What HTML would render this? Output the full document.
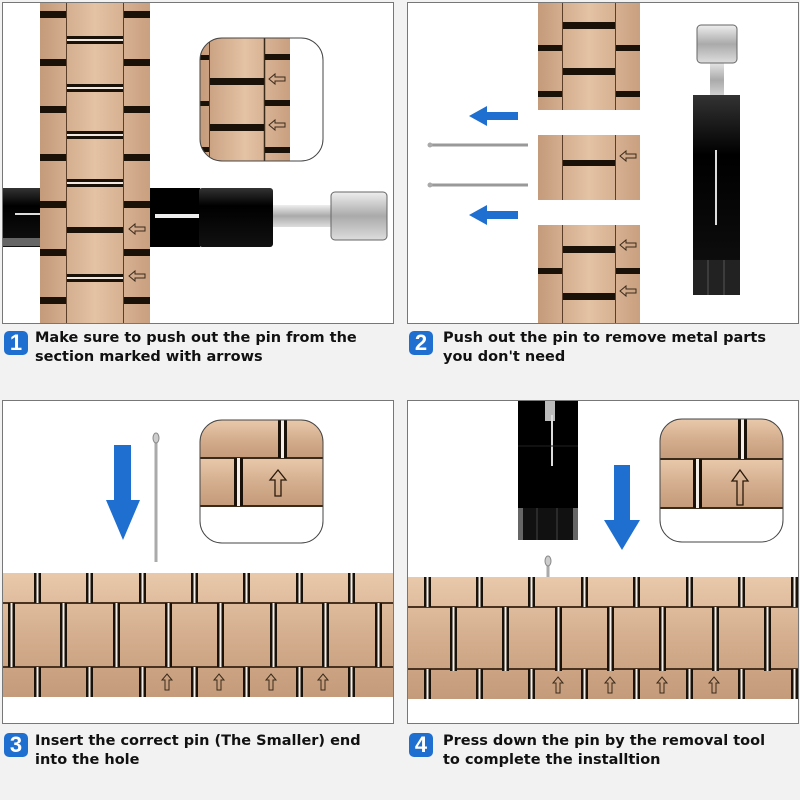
<!DOCTYPE html>
<html><head><meta charset="utf-8"><style>
body{margin:0;background:#f2f2f2;width:800px;height:800px;overflow:hidden;font-family:"Liberation Sans",sans-serif}
svg{position:absolute;left:0;top:0}
.cap{position:absolute;font-family:"DejaVu Sans",sans-serif;font-weight:bold;font-size:14.5px;line-height:19px;color:#111}
.n{position:absolute;width:24px;height:24px;background:#1e6fd0;border-radius:5px;color:#fff;font-weight:bold;font-size:22px;line-height:24px;text-align:center}
</style></head><body>
<svg width="800" height="800" viewBox="0 0 800 800">
<defs>
<linearGradient id="m" x1="0" y1="0" x2="0" y2="1"><stop offset="0" stop-color="#e9c9ab"/><stop offset=".5" stop-color="#d4ae8e"/><stop offset="1" stop-color="#c49b7b"/></linearGradient>
<linearGradient id="mh" x1="0" y1="0" x2="1" y2="0"><stop offset="0" stop-color="#c49b7b"/><stop offset=".5" stop-color="#e4c2a4"/><stop offset="1" stop-color="#c9a080"/></linearGradient>
<linearGradient id="bk" x1="0" y1="0" x2="0" y2="1"><stop offset="0" stop-color="#333"/><stop offset=".3" stop-color="#000"/><stop offset="1" stop-color="#111"/></linearGradient>
<linearGradient id="sv" x1="0" y1="0" x2="0" y2="1"><stop offset="0" stop-color="#eee"/><stop offset=".5" stop-color="#aaa"/><stop offset="1" stop-color="#ddd"/></linearGradient>
<g id="vg"><rect width="7" height="30" fill="#1a1208"/><rect x="2.5" width="2" height="30" fill="#f4eee8"/></g>
<g id="vgm"><rect width="7" height="64" fill="#1a1208"/><rect x="2.5" width="2" height="64" fill="#f4eee8"/></g>
<g id="ua"><path d="M0,-8 L5,-2 L2,-2 L2,8 L-2,8 L-2,-2 L-5,-2 Z" fill="none" stroke="#3a2a1a" stroke-width="1"/></g>
<g id="la"><path d="M-8,0 L-2,-5 L-2,-2 L8,-2 L8,2 L-2,2 L-2,5 Z" fill="none" stroke="#3a2a1a" stroke-width="1"/></g>
</defs>
<rect x="2.5" y="2.5" width="391" height="321" fill="#fff" stroke="#777"/>
<rect x="407.5" y="2.5" width="391" height="321" fill="#fff" stroke="#777"/>
<rect x="2.5" y="400.5" width="391" height="323" fill="#fff" stroke="#777"/>
<rect x="407.5" y="400.5" width="391" height="323" fill="#fff" stroke="#777"/>

<rect x="40" y="3" width="110" height="320" fill="url(#mh)"/>
<line x1="66.5" y1="3" x2="66.5" y2="323" stroke="#5a3e28"/><line x1="123.5" y1="3" x2="123.5" y2="323" stroke="#5a3e28"/>
<g fill="#1a1208">
<rect x="40" y="11" width="26" height="7"/><rect x="124" y="11" width="26" height="7"/>
<rect x="40" y="59" width="26" height="7"/><rect x="124" y="59" width="26" height="7"/>
<rect x="40" y="106" width="26" height="7"/><rect x="124" y="106" width="26" height="7"/>
<rect x="40" y="154" width="26" height="7"/><rect x="124" y="154" width="26" height="7"/>
<rect x="40" y="201" width="26" height="7"/><rect x="124" y="201" width="26" height="7"/>
<rect x="40" y="249" width="26" height="7"/><rect x="124" y="249" width="26" height="7"/>
<rect x="40" y="297" width="26" height="7"/><rect x="124" y="297" width="26" height="7"/>
<rect x="67" y="36" width="56" height="8"/><rect x="67" y="84" width="56" height="8"/><rect x="67" y="131" width="56" height="8"/><rect x="67" y="179" width="56" height="8"/><rect x="67" y="227" width="56" height="6"/><rect x="67" y="274" width="56" height="8"/>
</g>
<g fill="#f0e8e0"><rect x="67" y="39" width="56" height="2"/><rect x="67" y="87" width="56" height="2"/><rect x="67" y="134" width="56" height="2"/><rect x="67" y="182" width="56" height="2"/><rect x="67" y="277" width="56" height="2"/></g>
<use href="#la" x="137" y="229"/><use href="#la" x="137" y="276"/>
<rect x="3" y="188" width="37" height="59" fill="url(#bk)"/><rect x="3" y="238" width="37" height="8" fill="#666"/>
<line x1="15" y1="214" x2="40" y2="214" stroke="#ddd" stroke-width="2"/>
<rect x="150" y="188" width="50" height="59" fill="#000"/>
<rect x="155" y="214" width="45" height="4" fill="#eee"/>
<rect x="199" y="188" width="74" height="59" rx="3" fill="url(#bk)"/>
<rect x="273" y="205" width="60" height="22" fill="url(#sv)"/>
<rect x="331" y="192" width="56" height="48" rx="4" fill="url(#sv)" stroke="#666"/>
<clipPath id="c1"><rect x="200" y="38" width="123" height="123" rx="22"/></clipPath>
<g clip-path="url(#c1)">
<rect x="200" y="38" width="123" height="123" fill="#fff"/>
<rect x="200" y="38" width="90" height="123" fill="url(#mh)"/>
<line x1="209.5" y1="38" x2="209.5" y2="161" stroke="#5a3e28"/><line x1="264.5" y1="38" x2="264.5" y2="161" stroke="#3a2a1a" stroke-width="1.5"/>
<g fill="#1a1208"><rect x="210" y="78" width="54" height="7"/><rect x="210" y="124" width="54" height="7"/><rect x="265" y="54" width="25" height="6"/><rect x="265" y="100" width="25" height="6"/><rect x="265" y="147" width="25" height="6"/><rect x="200" y="55" width="9" height="5"/><rect x="200" y="101" width="9" height="5"/><rect x="200" y="147" width="9" height="5"/></g>
<use href="#la" x="277" y="79"/><use href="#la" x="277" y="125"/>
</g>
<rect x="200" y="38" width="123" height="123" rx="22" fill="none" stroke="#444"/>

<g>
<rect x="538" y="3" width="102" height="107" fill="url(#mh)"/>
<line x1="562.5" y1="3" x2="562.5" y2="110" stroke="#5a3e28"/><line x1="615.5" y1="3" x2="615.5" y2="110" stroke="#5a3e28"/>
<g fill="#1a1208"><rect x="563" y="22" width="52" height="7"/><rect x="563" y="68" width="52" height="7"/><rect x="538" y="45" width="24" height="6"/><rect x="616" y="45" width="24" height="6"/><rect x="538" y="91" width="24" height="6"/><rect x="616" y="91" width="24" height="6"/></g>
<rect x="538" y="135" width="102" height="65" fill="url(#mh)"/>
<line x1="562.5" y1="135" x2="562.5" y2="200" stroke="#5a3e28"/><line x1="615.5" y1="135" x2="615.5" y2="200" stroke="#5a3e28"/>
<rect x="563" y="160" width="52" height="6" fill="#1a1208"/>
<use href="#la" x="628" y="156"/>
<rect x="538" y="225" width="102" height="98" fill="url(#mh)"/>
<line x1="562.5" y1="225" x2="562.5" y2="323" stroke="#5a3e28"/><line x1="615.5" y1="225" x2="615.5" y2="323" stroke="#5a3e28"/>
<g fill="#1a1208"><rect x="563" y="246" width="52" height="7"/><rect x="563" y="293" width="52" height="7"/><rect x="538" y="268" width="24" height="6"/><rect x="616" y="268" width="24" height="6"/></g>
<use href="#la" x="628" y="245"/><use href="#la" x="628" y="291"/>
</g>
<line x1="430" y1="145" x2="528" y2="145" stroke="#999" stroke-width="3"/><circle cx="430" cy="145" r="2.5" fill="#aaa"/>
<line x1="430" y1="185" x2="528" y2="185" stroke="#999" stroke-width="3"/><circle cx="430" cy="185" r="2.5" fill="#aaa"/>
<path d="M469,116 L487,106 L487,112 L518,112 L518,120 L487,120 L487,126 Z" fill="#1e6fd0"/>
<path d="M469,215 L487,205 L487,211 L518,211 L518,219 L487,219 L487,225 Z" fill="#1e6fd0"/>
<rect x="710" y="60" width="14" height="40" fill="url(#sv)"/>
<rect x="697" y="25" width="40" height="38" rx="4" fill="url(#sv)" stroke="#666"/>
<rect x="693" y="95" width="47" height="200" fill="url(#bk)"/>
<line x1="716" y1="150" x2="716" y2="225" stroke="#ddd" stroke-width="2"/>
<rect x="693" y="260" width="47" height="35" fill="#222"/>
<line x1="708" y1="260" x2="708" y2="295" stroke="#555"/><line x1="724" y1="260" x2="724" y2="295" stroke="#555"/>

<rect x="3" y="573" width="390" height="124" fill="url(#m)"/>
<line x1="3" y1="603" x2="393" y2="603" stroke="#4a3220" stroke-width="2"/><line x1="3" y1="667" x2="393" y2="667" stroke="#4a3220" stroke-width="2"/>
<g><use href="#vg" x="34" y="573"/><use href="#vg" x="86" y="573"/><use href="#vg" x="139" y="573"/><use href="#vg" x="191" y="573"/><use href="#vg" x="243" y="573"/><use href="#vg" x="296" y="573"/><use href="#vg" x="348" y="573"/>
<use href="#vg" x="34" y="667"/><use href="#vg" x="86" y="667"/><use href="#vg" x="139" y="667"/><use href="#vg" x="191" y="667"/><use href="#vg" x="243" y="667"/><use href="#vg" x="296" y="667"/><use href="#vg" x="348" y="667"/>
<use href="#vgm" x="8" y="603"/><use href="#vgm" x="60" y="603"/><use href="#vgm" x="113" y="603"/><use href="#vgm" x="165" y="603"/><use href="#vgm" x="217" y="603"/><use href="#vgm" x="270" y="603"/><use href="#vgm" x="322" y="603"/><use href="#vgm" x="375" y="603"/></g>
<use href="#ua" x="167" y="682"/><use href="#ua" x="219" y="682"/><use href="#ua" x="271" y="682"/><use href="#ua" x="323" y="682"/>
<path d="M106,500 L114,500 L114,445 L131,445 L131,500 L140,500 L123,540 Z" fill="#1e6fd0"/>
<line x1="156" y1="440" x2="156" y2="562" stroke="#aaa" stroke-width="3"/><ellipse cx="156" cy="438" rx="3" ry="5" fill="#ccc" stroke="#888"/>
<clipPath id="c3"><rect x="200" y="420" width="123" height="123" rx="22"/></clipPath>
<g clip-path="url(#c3)"><rect x="200" y="420" width="123" height="123" fill="#fff"/>
<rect x="200" y="420" width="123" height="38" fill="url(#m)"/><rect x="200" y="458" width="123" height="48" fill="url(#m)"/>
<line x1="200" y1="458" x2="323" y2="458" stroke="#3a2a1a" stroke-width="2"/><line x1="200" y1="506" x2="323" y2="506" stroke="#3a2a1a" stroke-width="2"/>
<rect x="278" y="420" width="9" height="38" fill="#1a1208"/><rect x="281" y="420" width="3" height="38" fill="#f4eee8"/>
<rect x="234" y="458" width="9" height="48" fill="#1a1208"/><rect x="237" y="458" width="3" height="48" fill="#f4eee8"/>
<path d="M278,470 L286,480 L281,480 L281,496 L275,496 L275,480 L270,480 Z" fill="none" stroke="#2a1a0a" stroke-width="1.3"/></g>
<rect x="200" y="420" width="123" height="123" rx="22" fill="none" stroke="#444"/>

<rect x="408" y="577" width="390" height="122" fill="url(#m)"/>
<line x1="408" y1="607" x2="798" y2="607" stroke="#4a3220" stroke-width="2"/><line x1="408" y1="669" x2="798" y2="669" stroke="#4a3220" stroke-width="2"/>
<g><use href="#vg" x="424" y="577"/><use href="#vg" x="476" y="577"/><use href="#vg" x="528" y="577"/><use href="#vg" x="581" y="577"/><use href="#vg" x="633" y="577"/><use href="#vg" x="686" y="577"/><use href="#vg" x="738" y="577"/><use href="#vg" x="791" y="577"/>
<use href="#vg" x="424" y="669"/><use href="#vg" x="476" y="669"/><use href="#vg" x="528" y="669"/><use href="#vg" x="581" y="669"/><use href="#vg" x="633" y="669"/><use href="#vg" x="686" y="669"/><use href="#vg" x="738" y="669"/><use href="#vg" x="791" y="669"/>
<use href="#vgm" x="450" y="607"/><use href="#vgm" x="502" y="607"/><use href="#vgm" x="555" y="607"/><use href="#vgm" x="607" y="607"/><use href="#vgm" x="659" y="607"/><use href="#vgm" x="712" y="607"/><use href="#vgm" x="764" y="607"/></g>
<use href="#ua" x="558" y="685"/><use href="#ua" x="610" y="685"/><use href="#ua" x="662" y="685"/><use href="#ua" x="714" y="685"/>
<line x1="548" y1="562" x2="548" y2="577" stroke="#aaa" stroke-width="3"/><ellipse cx="548" cy="561" rx="3" ry="5" fill="#ccc" stroke="#888"/>
<rect x="518" y="401" width="60" height="112" fill="#000"/>
<rect x="545" y="401" width="10" height="20" fill="#bbb"/>
<line x1="552" y1="415" x2="552" y2="466" stroke="#ddd" stroke-width="2"/>
<line x1="518" y1="446" x2="578" y2="446" stroke="#222"/>
<rect x="518" y="508" width="60" height="32" fill="#111"/><rect x="518" y="508" width="5" height="32" fill="#666"/><rect x="573" y="508" width="5" height="32" fill="#666"/>
<line x1="537" y1="508" x2="537" y2="540" stroke="#444"/><line x1="557" y1="508" x2="557" y2="540" stroke="#444"/>
<path d="M604,520 L614,520 L614,465 L630,465 L630,520 L640,520 L622,550 Z" fill="#1e6fd0"/>
<clipPath id="c4"><rect x="660" y="419" width="123" height="123" rx="22"/></clipPath>
<g clip-path="url(#c4)"><rect x="660" y="419" width="123" height="123" fill="#fff"/>
<rect x="660" y="419" width="123" height="40" fill="url(#m)"/><rect x="660" y="459" width="123" height="49" fill="url(#m)"/>
<line x1="660" y1="459" x2="783" y2="459" stroke="#3a2a1a" stroke-width="2"/><line x1="660" y1="508" x2="783" y2="508" stroke="#3a2a1a" stroke-width="2"/>
<rect x="738" y="419" width="9" height="40" fill="#1a1208"/><rect x="741" y="419" width="3" height="40" fill="#f4eee8"/>
<rect x="693" y="459" width="9" height="49" fill="#1a1208"/><rect x="696" y="459" width="3" height="49" fill="#f4eee8"/>
<path d="M740,470 L748,481 L743,481 L743,505 L737,505 L737,481 L732,481 Z" fill="none" stroke="#2a1a0a" stroke-width="1.3"/></g>
<rect x="660" y="419" width="123" height="123" rx="22" fill="none" stroke="#444"/>
</svg>

<div class="n" style="left:4px;top:331px">1</div>
<div class="cap" style="left:35px;top:329px">Make sure to push out the pin from the<br>section marked with arrows</div>
<div class="n" style="left:409px;top:331px">2</div>
<div class="cap" style="left:443px;top:329px">Push out the pin to remove metal parts<br>you don't need</div>
<div class="n" style="left:4px;top:733px">3</div>
<div class="cap" style="left:35px;top:732px">Insert the correct pin (The Smaller) end<br>into the hole</div>
<div class="n" style="left:409px;top:733px">4</div>
<div class="cap" style="left:443px;top:732px">Press down the pin by the removal tool<br>to complete the installtion</div>
</body></html>
